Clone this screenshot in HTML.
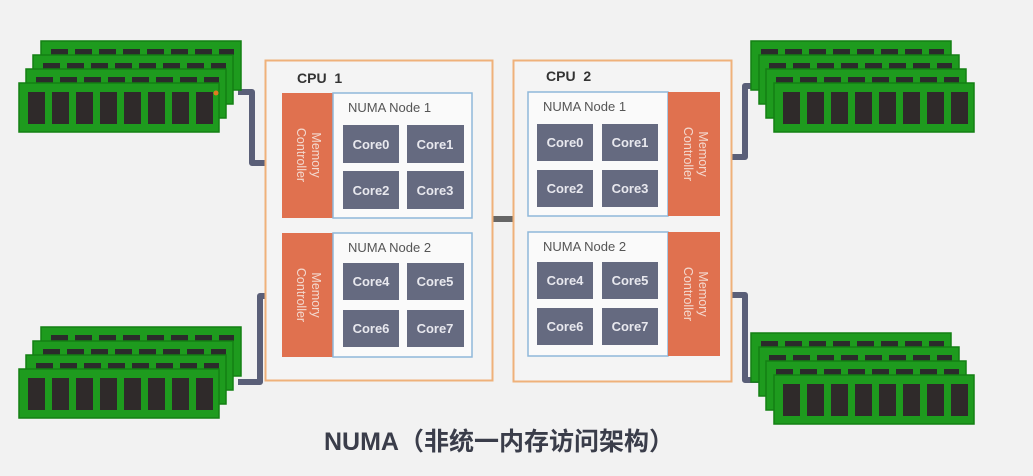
<!DOCTYPE html>
<html><head><meta charset="utf-8"><style>
html,body{margin:0;padding:0;background:#f2f2f2;}
svg{display:block}
text{font-family:"Liberation Sans","Noto Sans CJK SC",sans-serif;}
</style></head><body>
<svg width="1033" height="476" viewBox="0 0 1033 476" xmlns="http://www.w3.org/2000/svg">
<defs>
<g id="back">
<rect x="0" y="0" width="200" height="49" fill="#1e9b1e" stroke="#138013" stroke-width="1.5"/>
<g fill="#2b2b2b">
<rect x="10" y="8" width="17" height="6"/><rect x="34" y="8" width="17" height="6"/><rect x="58" y="8" width="17" height="6"/><rect x="82" y="8" width="17" height="6"/><rect x="106" y="8" width="17" height="6"/><rect x="130" y="8" width="17" height="6"/><rect x="154" y="8" width="17" height="6"/><rect x="178" y="8" width="15" height="6"/>
</g></g>
<g id="front">
<rect x="0" y="0" width="200" height="49" fill="#1e9b1e" stroke="#138013" stroke-width="1.5"/>
<g fill="#2f2a2a">
<rect x="9" y="9" width="17" height="32"/><rect x="33" y="9" width="17" height="32"/><rect x="57" y="9" width="17" height="32"/><rect x="81" y="9" width="17" height="32"/><rect x="105" y="9" width="17" height="32"/><rect x="129" y="9" width="17" height="32"/><rect x="153" y="9" width="17" height="32"/><rect x="177" y="9" width="17" height="32"/>
</g></g>
<g id="stackL">
<use href="#back" x="22" y="0"/><use href="#back" x="14" y="14"/><use href="#back" x="7" y="28"/><use href="#front" x="0" y="42"/>
</g>
<g id="stackR">
<use href="#back" x="0" y="0"/><use href="#back" x="8" y="14"/><use href="#back" x="15" y="28"/><use href="#front" x="23" y="42"/>
</g>
</defs>

<g fill="none" stroke="#5a5f78" stroke-width="6" stroke-linejoin="round">
<path d="M238 92 H252 V163 H284"/>
<path d="M284 296 H260 V382 H238"/>
<path d="M718 157 H745 V86 H760"/>
<path d="M718 295 H745 V380 H765"/>
</g>
<rect x="492" y="216" width="21" height="6" fill="#666"/>

<use href="#stackL" x="19" y="41"/>
<circle cx="216" cy="93" r="2.5" fill="#e07a20"/>
<use href="#stackL" x="19" y="327"/>
<use href="#stackR" x="751" y="41"/>
<use href="#stackR" x="751" y="333"/>

<rect x="265.5" y="60.5" width="227" height="320" fill="#f4f4f4" stroke="#efb17a" stroke-width="2"/>
<text x="297" y="83" font-size="14" font-weight="bold" fill="#333">CPU&#160;&#160;1</text>
<rect x="282" y="93" width="51" height="125" fill="#e0714f"/>
<rect x="333" y="93" width="139" height="125" fill="#fafafa" stroke="#8fb8da" stroke-width="1.5"/>
<text x="348" y="112" font-size="13" fill="#555">NUMA Node 1</text>
<rect x="282" y="233" width="51" height="124" fill="#e0714f"/>
<rect x="333" y="233" width="139" height="124" fill="#fafafa" stroke="#8fb8da" stroke-width="1.5"/>
<text x="348" y="252" font-size="13" fill="#555">NUMA Node 2</text>
<g font-size="12.5" fill="#f3d9cf" text-anchor="middle">
<text transform="translate(312,155) rotate(90)">Memory</text>
<text transform="translate(297,155) rotate(90)">Controller</text>
<text transform="translate(312,295) rotate(90)">Memory</text>
<text transform="translate(297,295) rotate(90)">Controller</text>
</g>
<g fill="#656a80">
<rect x="343" y="125" width="56" height="38"/><rect x="407" y="125" width="57" height="38"/>
<rect x="343" y="171" width="56" height="38"/><rect x="407" y="171" width="57" height="38"/>
<rect x="343" y="263" width="56" height="37"/><rect x="407" y="263" width="57" height="37"/>
<rect x="343" y="310" width="56" height="37"/><rect x="407" y="310" width="57" height="37"/>
</g>
<g font-size="13" font-weight="bold" fill="#e8e8ee" text-anchor="middle">
<text x="371" y="149">Core0</text><text x="435" y="149">Core1</text>
<text x="371" y="195">Core2</text><text x="435" y="195">Core3</text>
<text x="371" y="286">Core4</text><text x="435" y="286">Core5</text>
<text x="371" y="333">Core6</text><text x="435" y="333">Core7</text>
</g>

<rect x="513.5" y="60.5" width="218" height="321" fill="#f4f4f4" stroke="#efb17a" stroke-width="2"/>
<text x="546" y="81" font-size="14" font-weight="bold" fill="#333">CPU&#160;&#160;2</text>
<rect x="528" y="92" width="140" height="124" fill="#fafafa" stroke="#8fb8da" stroke-width="1.5"/>
<rect x="668" y="92" width="52" height="124" fill="#e0714f"/>
<text x="543" y="111" font-size="13" fill="#555">NUMA Node 1</text>
<rect x="528" y="232" width="140" height="124" fill="#fafafa" stroke="#8fb8da" stroke-width="1.5"/>
<rect x="668" y="232" width="52" height="124" fill="#e0714f"/>
<text x="543" y="251" font-size="13" fill="#555">NUMA Node 2</text>
<g font-size="12.5" fill="#f3d9cf" text-anchor="middle">
<text transform="translate(699,154) rotate(90)">Memory</text>
<text transform="translate(684,154) rotate(90)">Controller</text>
<text transform="translate(699,294) rotate(90)">Memory</text>
<text transform="translate(684,294) rotate(90)">Controller</text>
</g>
<g fill="#656a80">
<rect x="537" y="124" width="56" height="37"/><rect x="602" y="124" width="56" height="37"/>
<rect x="537" y="170" width="56" height="37"/><rect x="602" y="170" width="56" height="37"/>
<rect x="537" y="262" width="56" height="37"/><rect x="602" y="262" width="56" height="37"/>
<rect x="537" y="308" width="56" height="37"/><rect x="602" y="308" width="56" height="37"/>
</g>
<g font-size="13" font-weight="bold" fill="#e8e8ee" text-anchor="middle">
<text x="565" y="147">Core0</text><text x="630" y="147">Core1</text>
<text x="565" y="193">Core2</text><text x="630" y="193">Core3</text>
<text x="565" y="285">Core4</text><text x="630" y="285">Core5</text>
<text x="565" y="331">Core6</text><text x="630" y="331">Core7</text>
</g>

<text x="324" y="450" font-size="25" font-weight="bold" fill="#3a3d4a">NUMA（非统一内存访问架构）</text>
</svg>
</body></html>
